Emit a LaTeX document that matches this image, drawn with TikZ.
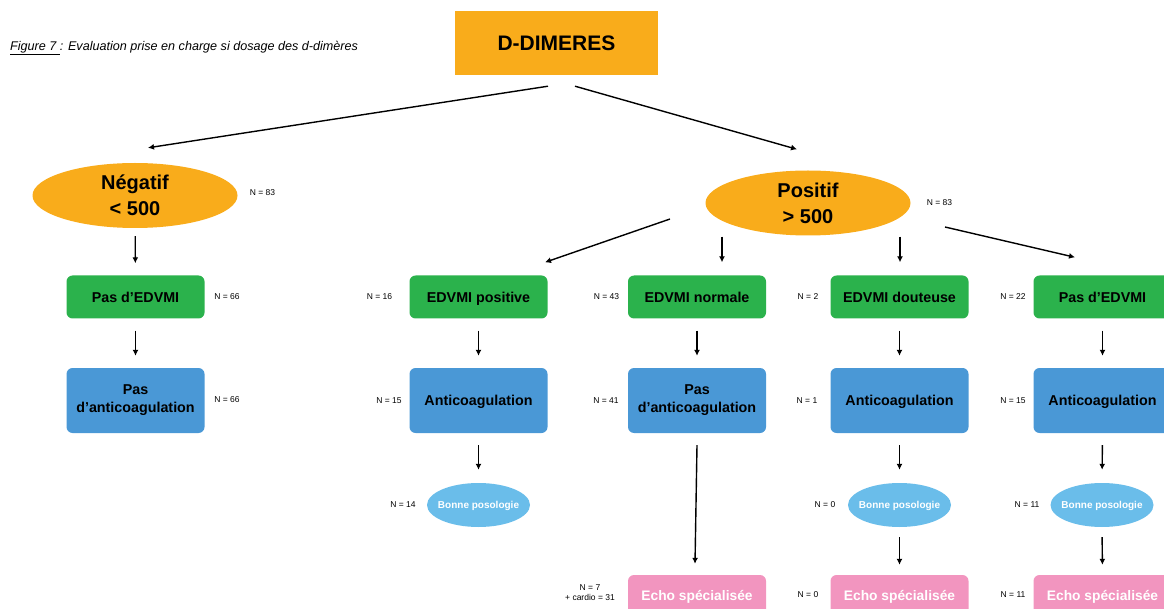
\documentclass[tikz,border=0pt]{standalone}
\usepackage{fontspec}
\setmainfont{Liberation Sans}
\usetikzlibrary{arrows.meta,shapes.geometric}
\definecolor{ddorange}{HTML}{F9AC1B}
\definecolor{dgreen}{HTML}{2BB24C}
\definecolor{dblue}{HTML}{4A98D6}
\definecolor{lblue}{HTML}{6ABDEA}
\definecolor{dpink}{HTML}{F295BF}
\begin{document}
\begin{tikzpicture}[x=1pt,y=-1pt,
  boxbase/.style={rectangle,rounded corners=6pt,minimum width=138pt,inner sep=0pt,align=center,font=\fontsize{14.3}{18}\selectfont\bfseries},
  oneline/.style={text height=10.3pt,text depth=0pt},
  greenbox/.style={boxbase,oneline,fill=dgreen,minimum height=43pt},
  bluebox/.style={boxbase,fill=dblue,minimum height=65pt},
  pinkbox/.style={boxbase,oneline,fill=dpink,minimum height=40pt,text=white,font=\fontsize{13.8}{17}\selectfont\bfseries},
  bigell/.style={ellipse,fill=ddorange,minimum width=205pt,minimum height=65pt,inner sep=0pt,align=center,font=\fontsize{20}{26}\selectfont\bfseries},
  smallell/.style={ellipse,fill=lblue,minimum width=103pt,minimum height=44pt,inner xsep=-8pt,inner ysep=0pt,text height=7.2pt,text depth=0pt,text=white,font=\fontsize{10}{12}\selectfont\bfseries},
  nlab/.style={inner sep=0pt,align=center,font=\fontsize{8.5}{10}\selectfont},
  arr/.style={-{Latex[length=6pt,width=6pt]},line width=1.4pt},
  down/.style={arr,shorten <=12pt,shorten >=12pt}]
\useasboundingbox (0,0) rectangle (1164,609);
\clip (0,0) rectangle (1164,609);

% title
\node[anchor=base west,inner sep=0pt,font=\fontsize{12.6}{15}\selectfont\itshape] (title) at (10,50.5) {\underline{Figure 7 }: Evaluation prise en charge si dosage des d-dimères};

% top
\node[rectangle,fill=ddorange,minimum width=203pt,minimum height=64pt,inner sep=0pt,font=\fontsize{21}{25}\selectfont\bfseries] (dd) at (556.5,43) {D-DIMERES};

\node[bigell] (neg) at (135,195.5) {Négatif\\< 500};
\node[bigell] (pos) at (808,203) {Positif\\> 500};
\node[nlab] (nneg) at (262.5,193) {N = 83};
\node[nlab] (npos) at (939.5,203) {N = 83};

% left branch
\node[greenbox] (n1) at (135.5,297) {Pas d’EDVMI};
\node[bluebox] (n2) at (135.5,400.5) {Pas\\d’anticoagulation};
\node[nlab] (ln1) at (227,297) {N = 66};
\node[nlab] (ln2) at (227,400) {N = 66};

% green row
\node[greenbox] (g1) at (478.5,297) {EDVMI positive};
\node[greenbox] (g2) at (697,297) {EDVMI normale};
\node[greenbox] (g3) at (899.5,297) {EDVMI douteuse};
\node[greenbox] (g4) at (1102.5,297) {Pas d’EDVMI};
\node[nlab] (lg1) at (379.5,297) {N = 16};
\node[nlab] (lg2) at (606.5,297) {N = 43};
\node[nlab] (lg3) at (808,297) {N = 2};
\node[nlab] (lg4) at (1013,297) {N = 22};

% blue row
\node[bluebox,oneline] (b1) at (478.5,400.5) {Anticoagulation};
\node[bluebox] (b2) at (697,400.5) {Pas\\d’anticoagulation};
\node[bluebox,oneline] (b3) at (899.5,400.5) {Anticoagulation};
\node[bluebox,oneline] (b4) at (1102.5,400.5) {Anticoagulation};
\node[nlab] (lb1) at (389,400.5) {N = 15};
\node[nlab] (lb2) at (606,400.5) {N = 41};
\node[nlab] (lb3) at (807,400.5) {N = 1};
\node[nlab] (lb4) at (1013,400.5) {N = 15};

% ellipses
\node[smallell] (e1) at (478.5,505) {Bonne posologie};
\node[smallell] (e3) at (899.5,505) {Bonne posologie};
\node[smallell] (e4) at (1102,505) {Bonne posologie};
\node[nlab] (le1) at (403,505) {N = 14};
\node[nlab] (le3) at (825,505) {N = 0};
\node[nlab] (le4) at (1027,505) {N = 11};

% pink row
\node[pinkbox] (p2) at (697,595) {Echo spécialisée};
\node[pinkbox] (p3) at (899.5,595) {Echo spécialisée};
\node[pinkbox] (p4) at (1102.5,595) {Echo spécialisée};
\node[nlab] (lp2) at (590,593) {N = 7\\+ cardio = 31};
\node[nlab] (lp3) at (808,595) {N = 0};
\node[nlab] (lp4) at (1013,595) {N = 11};

% arrows from top
\draw[arr] ([xshift=-8.5pt,yshift=-11pt]dd.south) -- ([xshift=13pt,yshift=15pt]neg.north);
\draw[arr] ([xshift=18.5pt,yshift=-11pt]dd.south) -- ([xshift=-11pt,yshift=21pt]pos.north);

% left
\draw[arr,shorten <=8pt,shorten >=12pt] (neg) -- (n1);
\draw[down] (n1) -- (n2);

% from positif
\draw[arr] ([xshift=-138pt,yshift=-16pt]pos.center) -- ([xshift=66.5pt,yshift=13pt]g1.north);
\draw[arr] ([xshift=-86pt,yshift=-1pt]pos.south) -- ([xshift=25pt,yshift=13pt]g2.north);
\draw[arr] ([xshift=92pt,yshift=-1pt]pos.south) -- ([xshift=0.5pt,yshift=13pt]g3.north);
\draw[arr] ([xshift=137pt,yshift=-24pt]pos.center) -- ([xshift=-27.5pt,yshift=18pt]g4.north);

% green to blue
\draw[down] (g1) -- (b1);
\draw[down] (g2) -- (b2);
\draw[down] (g3) -- (b3);
\draw[down] (g4) -- (b4);

% blue to next
\draw[arr,shorten <=12pt,shorten >=13pt] (b1) -- (e1);
\draw[arr,shorten <=12pt,shorten >=13pt] (b3) -- (e3);
\draw[arr,shorten <=12pt,shorten >=13pt] (b4.south) -- (e4.north);
\draw[arr] ([yshift=-12pt]b2.south) -- ([xshift=-2pt,yshift=11pt]p2.north);

% ellipse to pink
\draw[arr,shorten <=10pt,shorten >=10pt] (e3) -- (p3);
\draw[arr,shorten <=10pt,shorten >=10pt] (e4.south) -- (p4.north);
\end{tikzpicture}
\end{document}
